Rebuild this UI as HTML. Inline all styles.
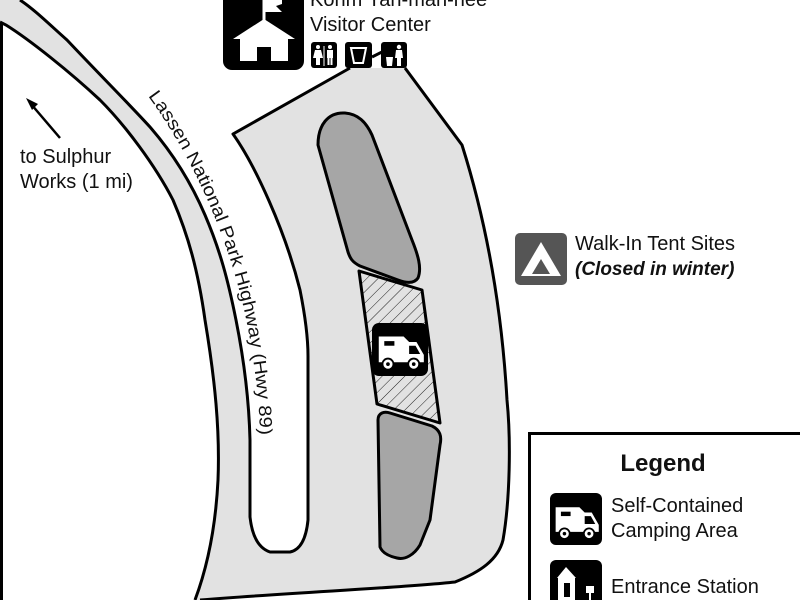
<!DOCTYPE html>
<html><head><meta charset="utf-8"><style>
html,body{margin:0;padding:0;background:#fff}
svg{display:block}
text{font-family:"Liberation Sans","DejaVu Sans",sans-serif;fill:#111}
</style></head><body>
<svg width="800" height="600" viewBox="0 0 800 600" xmlns="http://www.w3.org/2000/svg">
<defs>
<pattern id="h" width="8" height="8" patternUnits="userSpaceOnUse" patternTransform="rotate(45)">
<rect width="8" height="8" fill="#e2e2e2"/><line x1="0" y1="0" x2="0" y2="8" stroke="#222" stroke-width="1"/>
</pattern>
</defs>
<rect width="800" height="600" fill="#fff"/>
<line x1="1.5" y1="0" x2="1.5" y2="600" stroke="#000" stroke-width="3"/>
<path d="M0,22 L6,25 C30,40 70,72 100,100 C125,125 155,165 173,200 C188,235 198,270 205,320 C215,380 220,430 218,480 C216,520 210,560 195,600 L210,600 C300,592 400,588 455,582 C480,572 498,560 503,540 C510,500 511,440 507,400 C503,330 492,240 462,145 L405,68 L350,68 L233,134 C255,165 285,230 300,290 C306,320 308,340 308,356 L308,520 C306,540 300,550 290,552 L270,552 C258,548 252,535 250,517 L250,440 C249,400 244,360 236,320 C228,280 220,250 205,215 C190,180 170,150 150,127 C130,105 100,75 67,40 C50,25 35,10 20,0 L0,0 Z" fill="#e2e2e2"/>
<path d="M0,22 L6,25 C30,40 70,72 100,100 C125,125 155,165 173,200 C188,235 198,270 205,320 C215,380 220,430 218,480 C216,520 210,560 195,600" fill="none" stroke="#000" stroke-width="3"/>
<path d="M20,0 C35,10 50,25 67,40 C100,75 130,105 150,127 C170,150 190,180 205,215 C220,250 228,280 236,320 C244,360 249,400 250,440 L250,517 C252,535 258,548 270,552 L290,552 C300,550 306,540 308,520 L308,356 C308,340 306,320 300,290 C285,230 255,165 233,134 L350,68 M405,68 L462,145 C492,240 503,330 507,400 C511,440 510,500 503,540 C498,560 480,572 455,582 C400,588 300,592 200,600" fill="none" stroke="#000" stroke-width="3" stroke-linejoin="round"/>
<path d="M318,145 C318,125 328,112 345,113 C358,114 366,122 372,135 L412,240 C418,255 422,268 418,278 C414,284 406,283 398,280 L360,266 C352,262 350,258 348,252 Z" fill="#a6a6a6" stroke="#000" stroke-width="3" stroke-linejoin="round"/>
<path d="M359,271 L422,290 L440,423 L377,404 Z" fill="url(#h)" stroke="#000" stroke-width="3" stroke-linejoin="round"/>
<path d="M378,420 C378,413 384,411 390,413 L432,426 C440,430 442,436 440,445 L430,520 L420,545 C414,555 405,560 397,558 C388,556 382,552 380,547 Z" fill="#a6a6a6" stroke="#000" stroke-width="3" stroke-linejoin="round"/>
<g transform="translate(372,323)">
<rect width="56" height="53" rx="7" fill="#000"/>
<g transform="translate(4,8) scale(0.92)">
<path d="M3,6 L30,6 L36,12 L44,12 L52,26 L52,34 L3,34 Z" fill="#fff"/>
<rect x="9" y="11" width="11" height="5" fill="#000"/>
<path d="M36,16 L43,16 L48,25 L36,25 Z" fill="#000"/>
<circle cx="13" cy="36" r="6" fill="#fff" stroke="#000" stroke-width="2"/><circle cx="13" cy="36" r="2" fill="#000"/>
<circle cx="41" cy="36" r="6" fill="#fff" stroke="#000" stroke-width="2"/><circle cx="41" cy="36" r="2" fill="#000"/>
</g>
</g>
<rect x="223" y="-12" width="81" height="82" rx="9" fill="#000"/>
<line x1="264" y1="-2" x2="264" y2="22" stroke="#fff" stroke-width="3"/>
<path d="M265,-2 L282,-2 L282,4 L276,6 L282,12 L265,12 Z" fill="#fff"/>
<path d="M233,39 L264,19 L295,39 Z" fill="#fff"/>
<path d="M240,38 L288,38 L288,61 L271,61 L271,47 L257,47 L257,61 L240,61 Z" fill="#fff"/>
<text x="310" y="6" font-size="20">Kohm Yah-mah-nee</text>
<text x="310" y="31" font-size="20">Visitor Center</text>
<rect x="311" y="42" width="26" height="26" rx="3" fill="#000"/>
<circle cx="318" cy="47" r="2" fill="#fff"/><path d="M315,50 L321,50 L323,58 L320,58 L320,65 L316,65 L316,58 L313,58 Z" fill="#fff"/>
<line x1="324" y1="46" x2="324" y2="66" stroke="#fff" stroke-width="1"/>
<circle cx="330" cy="47" r="2" fill="#fff"/><rect x="327" y="50" width="6" height="8" fill="#fff"/><rect x="327.5" y="58" width="2" height="7" fill="#fff"/><rect x="330.5" y="58" width="2" height="7" fill="#fff"/>
<rect x="345" y="42" width="27" height="26" rx="3" fill="#000"/>
<path d="M351,48 L366,48 L363,63 L354,63 Z" fill="none" stroke="#fff" stroke-width="2"/>
<line x1="372" y1="57" x2="382" y2="52" stroke="#000" stroke-width="3"/>
<rect x="381" y="42" width="26" height="26" rx="3" fill="#000"/>
<circle cx="399" cy="47" r="2.2" fill="#fff"/><path d="M396,50 L402,50 L403,58 L401,58 L401,66 L397,66 L397,58 L395,58 Z" fill="#fff"/>
<path d="M386,57 L393,57 L392,66 L387,66 Z" fill="#fff"/>
<line x1="60" y1="138" x2="31" y2="104" stroke="#000" stroke-width="2.5"/>
<path d="M26,98 L38,104 L32,110 Z" fill="#000"/>
<text x="20" y="163" font-size="20">to Sulphur</text>
<text x="20" y="188" font-size="20">Works (1 mi)</text>
<path id="rp" d="M148,96 C195,160 235,250 250,340 S 258,440 258,470" fill="none"/>
<text font-size="18"><textPath href="#rp" textLength="362" lengthAdjust="spacingAndGlyphs">Lassen National Park Highway (Hwy 89)</textPath></text>
<rect x="515" y="233" width="52" height="52" rx="5" fill="#555"/>
<path d="M541,242 L561,276 L521,276 Z" fill="#fff"/>
<path d="M541,259 L550,274 L532,274 Z" fill="#555"/>
<text x="575" y="250" font-size="20">Walk-In Tent Sites</text>
<text x="575" y="275" font-size="19" font-weight="bold" font-style="italic">(Closed in winter)</text>
<rect x="529.5" y="433.5" width="272" height="170" fill="#fff" stroke="#000" stroke-width="3"/>
<text x="663" y="471" font-size="24" font-weight="bold" text-anchor="middle">Legend</text>
<g transform="translate(550,493)">
<rect width="52" height="52" rx="6" fill="#000"/>
<g transform="translate(3,9) scale(0.88)">
<path d="M3,6 L30,6 L36,12 L44,12 L52,26 L52,34 L3,34 Z" fill="#fff"/>
<rect x="9" y="11" width="11" height="5" fill="#000"/>
<path d="M36,16 L43,16 L48,25 L36,25 Z" fill="#000"/>
<circle cx="13" cy="36" r="6" fill="#fff" stroke="#000" stroke-width="2"/><circle cx="13" cy="36" r="2" fill="#000"/>
<circle cx="41" cy="36" r="6" fill="#fff" stroke="#000" stroke-width="2"/><circle cx="41" cy="36" r="2" fill="#000"/>
</g>
</g>
<text x="611" y="512" font-size="20">Self-Contained</text>
<text x="611" y="537" font-size="20">Camping Area</text>
<rect x="550" y="560" width="52" height="52" rx="6" fill="#000"/>
<path d="M557,578 L566,567 L576,578 Z" fill="#fff"/>
<rect x="558" y="578" width="17" height="22" fill="#fff"/><rect x="564" y="583" width="6" height="14" fill="#000"/>
<rect x="586" y="586" width="8" height="7" fill="#fff"/><rect x="589" y="593" width="2" height="7" fill="#fff"/>
<text x="611" y="593" font-size="20">Entrance Station</text>
</svg>
</body></html>
